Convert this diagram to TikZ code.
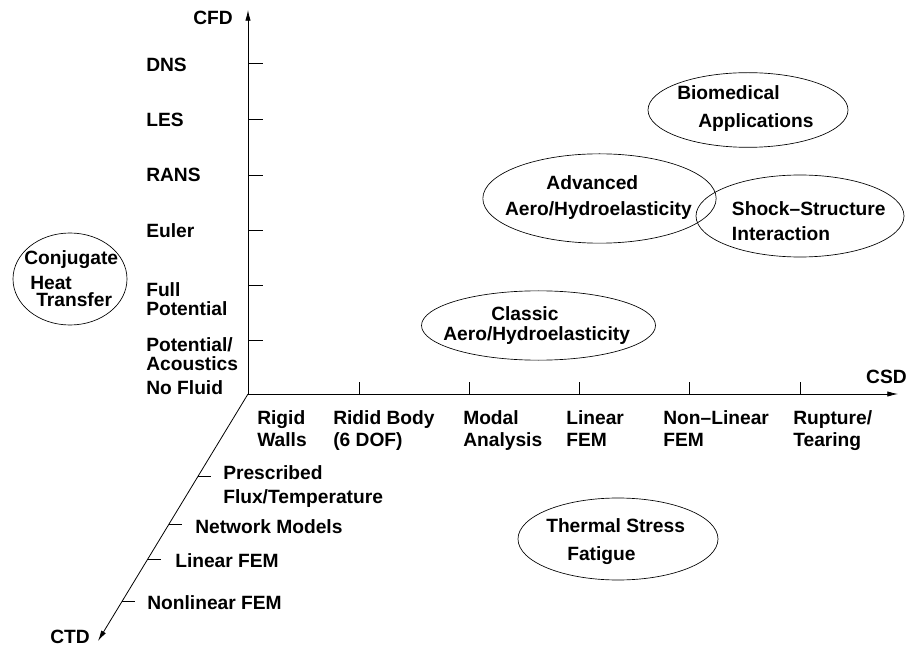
\documentclass[tikz,border=0pt]{standalone}
\usepackage{fontspec}
\setmainfont{Liberation Sans}
\usetikzlibrary{positioning,shapes.geometric,arrows.meta}

\newcommand{\lblfont}[1]{\bfseries\fontsize{14.4}{#1}\selectfont}

\tikzset{
  axis/.style={line width=0.6pt,-{Latex[length=8pt,width=4pt]}},
  axtick/.style={line width=0.5pt},
  lbl/.style={font=\lblfont{14.25},align=left,inner sep=0pt,anchor=north west},
  hlbl/.style={lbl,font=\lblfont{16.5}},
  blob/.style={draw,ellipse,line width=0.5pt,inner sep=0pt},
}

\begin{document}
\begin{tikzpicture}[x=0.75pt,y=-0.75pt]
    \useasboundingbox (0,0) rectangle (913,648);

    %% axes
    \coordinate (o) at (248,394);
    \coordinate (cfdtip) at (248,10);
    \coordinate (csdtip) at (898,394);
    \coordinate (ctdtip) at (98,641);
    \draw[axis] (o) -- (cfdtip);
    \draw[axis] (o) -- (csdtip);
    \draw[axis] (o) -- (ctdtip);

    \node[lbl,anchor=east] (cfd) at (233,17.5) {CFD};
    \node[lbl,anchor=east] (csd) at (907,377) {CSD};
    \node[lbl,anchor=west] (ctd) at (50,637) {CTD};

    %% ticks
    \foreach \y in {63,119,175,230,285,340}
        \draw[axtick] (248,\y) -- ++(15,0);
    \foreach \x in {359,469,579,689,800}
        \draw[axtick] (\x,394) -- ++(0,-12);
    \foreach \y in {476,524,559,601}
        \draw[axtick] ({248-0.607*(\y-394)},\y) -- ++(13,0);

    %% fluid levels
    \node[lbl] (dns)   at (146,58)  {DNS};
    \node[lbl] (les)   at (146,113) {LES};
    \node[lbl] (rans)  at (146,168) {RANS};
    \node[lbl] (euler) at (146,223) {Euler};
    \node[lbl] (fullpot) at (146,282) {Full\\Potential};
    \node[lbl] (pot)   at (146,337) {Potential/\\Acoustics};
    \node[lbl] (nofluid) at (146,380) {No Fluid};

    %% structure levels
    \node[hlbl] (rigid)   at (257,410) {Rigid\\Walls};
    \node[hlbl] (body)    at (333,410) {Ridid Body\\(6 DOF)};
    \node[hlbl] (modal)   at (463,410) {Modal\\Analysis};
    \node[hlbl] (linfem)  at (566,410) {Linear\\FEM};
    \node[hlbl] (nonlin)  at (663,410) {Non--Linear\\FEM};
    \node[hlbl] (rupture) at (793,410) {Rupture/\\Tearing};

    %% thermal levels
    \node[lbl,font=\lblfont{18}] (flux) at (223,465) {Prescribed\\Flux/Temperature};
    \node[lbl] (network) at (195,519) {Network Models};
    \node[lbl] (tlin)    at (175,553) {Linear FEM};
    \node[lbl] (tnonlin) at (147,595) {Nonlinear FEM};

    %% coupled problems
    \node[blob,minimum width=85.5pt,minimum height=69pt]  (conj)    at (70,279) {};
    \node[blob,minimum width=150pt,minimum height=56pt]   (bio)     at (748,110) {};
    \node[blob,minimum width=175pt,minimum height=67pt]   (adv)     at (599.5,198.5) {};
    \node[blob,minimum width=156pt,minimum height=61.5pt] (shock)   at (800,216) {};
    \node[blob,minimum width=175.5pt,minimum height=52pt] (classic) at (538.5,325.5) {};
    \node[blob,minimum width=150pt,minimum height=61.5pt] (thermal) at (618,539) {};

    \node[lbl,font=\lblfont{13.3}] (conj text) at (24,250.7)
        {Conjugate\\[4.9pt]\hspace*{4.5pt}Heat\\\hspace*{9pt}Transfer};
    \node[lbl,font=\lblfont{21}] (bio text) at (677,85)
        {Biomedical\\\hspace*{15.75pt}Applications};
    \node[lbl,font=\lblfont{20}] (adv text) at (504.8,175)
        {\hspace*{31pt}Advanced\\Aero/Hydroelasticity};
    \node[lbl,font=\lblfont{18.75}] (shock text) at (731.7,201.7)
        {Shock--Structure\\Interaction};
    \node[lbl,font=\lblfont{15}] (classic text) at (443,306.7)
        {\hspace*{36pt}Classic\\Aero/Hydroelasticity};
    \node[lbl,font=\lblfont{21}] (thermal text) at (546,518)
        {Thermal Stress\\\hspace*{15.75pt}Fatigue};
\end{tikzpicture}
\end{document}
